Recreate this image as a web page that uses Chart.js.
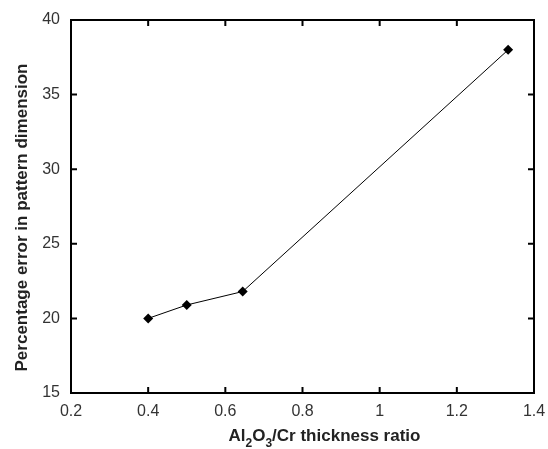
<!DOCTYPE html>
<html>
<head>
<meta charset="utf-8">
<script src="https://cdn.jsdelivr.net/npm/chart.js@4/dist/chart.umd.min.js"></script>
<style>
html,body{margin:0;padding:0;background:#fff;}
#wrap{width:548px;height:449px;position:relative;}
</style>
</head>
<body>
<div id="wrap"><canvas id="c" width="548" height="449"></canvas></div>
<script>
const thicknessRatio = [0.4, 0.5, 0.645, 1.333];
const percentError = [20.0, 20.9, 21.8, 38.0];
const xTicks = [0.2, 0.4, 0.6, 0.8, 1, 1.2, 1.4];
const yTicks = [15, 20, 25, 30, 35, 40];
// x title parts: [text, isSubscript]
const xTitleParts = [['Al', false], ['2', true], ['O', false], ['3', true], ['/Cr thickness ratio', false]];
const yTitle = 'Percentage error in pattern dimension';

const frame = {
  id: 'frame',
  afterDraw(chart) {
    const {ctx, chartArea: a, scales} = chart;
    ctx.save();
    ctx.strokeStyle = '#000';
    ctx.lineWidth = 2;
    ctx.strokeRect(a.left, a.top, a.right - a.left, a.bottom - a.top);
    const L = 6;
    ctx.beginPath();
    xTicks.forEach(v => {
      const x = scales.x.getPixelForValue(v);
      ctx.moveTo(x, a.bottom); ctx.lineTo(x, a.bottom - L);
      ctx.moveTo(x, a.top); ctx.lineTo(x, a.top + L);
    });
    yTicks.forEach(v => {
      const y = scales.y.getPixelForValue(v);
      ctx.moveTo(a.left, y); ctx.lineTo(a.left + L, y);
      ctx.moveTo(a.right, y); ctx.lineTo(a.right - L, y);
    });
    ctx.stroke();

    // x title with subscripts
    const big = 'bold 17px "Liberation Sans", Arial, sans-serif';
    const small = 'bold 12px "Liberation Sans", Arial, sans-serif';
    ctx.fillStyle = '#222';
    ctx.textBaseline = 'alphabetic';
    ctx.textAlign = 'left';
    let total = 0;
    xTitleParts.forEach(([t, sub]) => { ctx.font = sub ? small : big; total += ctx.measureText(t).width; });
    const cx = (a.left + a.right) / 2 + 22;
    let x = cx - total / 2;
    const base = 441;
    xTitleParts.forEach(([t, sub]) => {
      ctx.font = sub ? small : big;
      ctx.fillText(t, x, sub ? base + 6 : base);
      x += ctx.measureText(t).width;
    });

    // y title
    ctx.save();
    ctx.translate(22, (a.top + a.bottom) / 2 + 11);
    ctx.rotate(-Math.PI / 2);
    ctx.font = big;
    ctx.textAlign = 'center';
    ctx.textBaseline = 'middle';
    ctx.fillText(yTitle, 0, 0);
    ctx.restore();
    ctx.restore();
  }
};

new Chart(document.getElementById('c'), {
  type: 'line',
  data: {
    datasets: [{
      data: thicknessRatio.map((x, i) => ({x, y: percentError[i]})),
      borderColor: '#000',
      borderWidth: 1,
      backgroundColor: '#000',
      pointStyle: 'rectRot',
      pointRadius: 5,
      pointBorderWidth: 0,
      tension: 0
    }]
  },
  options: {
    responsive: false,
    animation: false,
    layout: {padding: {top: 20, right: 14, left: 0, bottom: 0}},
    plugins: {legend: {display: false}, tooltip: {enabled: false}},
    scales: {
      x: {
        type: 'linear', min: 0.2, max: 1.4,
        afterBuildTicks: s => { s.ticks = xTicks.map(v => ({value: v})); },
        afterFit: s => { s.height = 56; s.paddingRight = 0; s.paddingLeft = 0; },
        grid: {display: false, drawTicks: false},
        border: {display: false},
        ticks: {color: '#333', font: {family: 'Liberation Sans', size: 16}, padding: 9,
          callback: v => String(v)}
      },
      y: {
        type: 'linear', min: 15, max: 40,
        afterBuildTicks: s => { s.ticks = yTicks.map(v => ({value: v})); },
        afterFit: s => { s.width = 71; s.paddingTop = 0; s.paddingBottom = 0; },
        grid: {display: false, drawTicks: false},
        border: {display: false},
        ticks: {color: '#333', font: {family: 'Liberation Sans', size: 16}, padding: 11}
      }
    }
  },
  plugins: [frame]
});
</script>
</body>
</html>
